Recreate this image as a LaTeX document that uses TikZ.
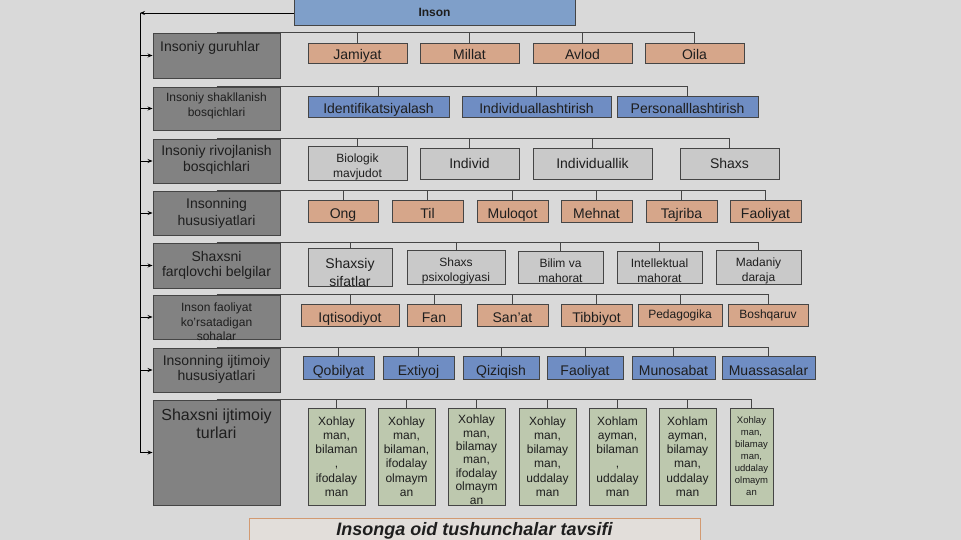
\documentclass[tikz,border=0pt]{standalone}
\usepackage{fontspec}
\setmainfont{Liberation Sans}
\usetikzlibrary{arrows.meta}
\definecolor{bg}{HTML}{D9D9D9}
\definecolor{insonc}{HTML}{7F9FC9}
\definecolor{salmon}{HTML}{D6A68A}
\definecolor{bluec}{HTML}{6F8DC3}
\definecolor{lgray}{HTML}{C9C9C9}
\definecolor{dgray}{HTML}{828282}
\definecolor{greenc}{HTML}{BDC8AE}
\definecolor{bordc}{HTML}{454545}
\definecolor{txtc}{HTML}{1E1E1E}
\definecolor{titlefill}{HTML}{E2DEDA}
\definecolor{titlebord}{HTML}{D29A72}
\newcommand{\bx}[7]{\node[#1, minimum width={(#5-#3)*1pt}, minimum height={(#6-#4)*1pt}] (#2) at ({(#3+#5)/2},{(#4+#6)/2}) {#7};}
\newcommand{\tsp}[1]{\rule{0pt}{#1}}
\tikzset{
  box/.style={draw=bordc, line width=0.9pt, inner sep=0pt, text=txtc, align=center},
  cat/.style={box, fill=dgray},
  cattxt/.style={text=txtc, align=center, inner sep=0pt},
  oneline/.style={text height=14.5pt, text depth=0pt},
  sal/.style={box, fill=salmon, font=\fontsize{14}{16}\selectfont, oneline},
  blu/.style={box, fill=bluec, font=\fontsize{14}{16}\selectfont, oneline},
  gry/.style={box, fill=lgray, font=\fontsize{14}{17}\selectfont},
  grn/.style={box, fill=greenc, font=\fontsize{12}{14.3}\selectfont},
  small/.style={font=\fontsize{12}{15}\selectfont},
  smallone/.style={font=\fontsize{12}{15}\selectfont, text height=6pt, text depth=0pt},
  bus/.style={draw=bordc, line width=0.8pt},
  arr/.style={draw=black, line width=0.8pt, -{Stealth[length=5pt,width=4pt]}},
}
\begin{document}
\begin{tikzpicture}[x=1pt,y=-1pt]
\clip (0,0) rectangle (961,540);
\fill[bg] (0,0) rectangle (961,540);

% top node
\bx{box, fill=insonc, font=\bfseries\fontsize{12}{14}\selectfont}{inson}{294}{-1}{575}{25}{Inson}

% category boxes
\bx{cat}{c1}{153}{33}{280}{78}{}
\bx{cat}{c2}{153}{87}{280}{130}{}
\bx{cat}{c3}{153}{139}{280}{183}{}
\bx{cat}{c4}{153}{191}{280}{235}{}
\bx{cat}{c5}{153}{243}{280}{288}{}
\bx{cat}{c6}{153}{295}{280}{339}{}
\bx{cat}{c7}{153}{348}{280}{392}{}
\bx{cat}{c8}{153}{400}{280}{505}{}

\node[cattxt, anchor=west, font=\fontsize{14}{16}\selectfont] (t1) at (160,48) {Insoniy guruhlar};
\node[cattxt, font=\fontsize{12}{15}\selectfont] (t2) at (216.5,106) {Insoniy shakllanish\\bosqichlari};
\node[cattxt, font=\fontsize{14}{16}\selectfont] (t3) at (216.5,160) {Insoniy rivojlanish\\bosqichlari};
\node[cattxt, font=\fontsize{14}{17}\selectfont] (t4) at (216.5,213.5) {Insonning\\hususiyatlari};
\node[cattxt, font=\fontsize{14}{15.5}\selectfont] (t5) at (216.5,265.5) {Shaxsni\\farqlovchi belgilar};
\node[cattxt, font=\fontsize{12}{14.5}\selectfont] (t6) at (216.5,322) {Inson faoliyat\\ko'rsatadigan\\sohalar};
\node[cattxt, font=\fontsize{14}{15}\selectfont] (t7) at (216.5,369) {Insonning ijtimoiy\\hususiyatlari};
\node[cattxt, font=\fontsize{16}{18}\selectfont] (t8) at (216.5,424) {Shaxsni ijtimoiy\\turlari};

% row 1
\bx{sal, text height=14pt}{r1a}{308}{43}{407}{63}{Jamiyat}
\bx{sal, text height=14pt}{r1b}{420}{43}{519}{63}{Millat}
\bx{sal, text height=14pt}{r1c}{533}{43}{632}{63}{Avlod}
\bx{sal, text height=14pt}{r1d}{645}{43}{744}{63}{Oila}
% row 2
\bx{blu, text height=15pt}{r2a}{308}{96}{449}{117}{Identifikatsiyalash}
\bx{blu, text height=15pt}{r2b}{462}{96}{611}{117}{Individuallashtirish}
\bx{blu, text height=15pt}{r2c}{617}{96}{758}{117}{Personalllashtirish}
% row 3
\bx{gry, small}{r3a}{308}{148}{407}{179}{\tsp{16pt}Biologik\\mavjudot}
\bx{gry}{r3b}{420}{148}{519}{179}{Individ}
\bx{gry}{r3c}{533}{148}{652}{179}{Individuallik}
\bx{gry}{r3d}{680}{148}{779}{179}{Shaxs}
% row 4
\bx{sal}{r4a}{308}{200}{378}{222}{Ong}
\bx{sal}{r4b}{392}{200}{463}{222}{Til}
\bx{sal}{r4c}{477}{200}{548}{222}{Muloqot}
\bx{sal}{r4d}{561}{200}{632}{222}{Mehnat}
\bx{sal}{r4e}{646}{200}{717}{222}{Tajriba}
\bx{sal}{r4f}{730}{200}{801}{222}{Faoliyat}
% row 5
\bx{gry, font=\fontsize{14}{18}\selectfont}{r5a}{308}{252}{392}{283}{\tsp{20pt}Shaxsiy\\sifatlar}
\bx{gry, small}{r5b}{407}{252}{505}{283}{\tsp{16pt}Shaxs\\psixologiyasi}
\bx{gry, small}{r5c}{518}{252}{603}{283}{\tsp{16pt}Bilim va\\mahorat}
\bx{gry, small}{r5d}{617}{252}{702}{283}{\tsp{16pt}Intellektual\\mahorat}
\bx{gry, small}{r5e}{716}{252}{801}{283}{\tsp{16pt}Madaniy\\daraja}
% row 6
\bx{sal}{r6a}{301}{304}{399}{326}{Iqtisodiyot}
\bx{sal}{r6b}{407}{304}{461}{326}{Fan}
\bx{sal}{r6c}{477}{304}{548}{326}{San'at}
\bx{sal}{r6d}{561}{304}{632}{326}{Tibbiyot}
\bx{sal, smallone}{r6e}{638}{304}{722}{326}{Pedagogika}
\bx{sal, smallone}{r6f}{728}{304}{808}{326}{Boshqaruv}
% row 7
\bx{blu, text height=16.5pt}{r7a}{303}{356}{374}{379}{Qobilyat}
\bx{blu, text height=16.5pt}{r7b}{383}{356}{454}{379}{Extiyoj}
\bx{blu, text height=16.5pt}{r7c}{463}{356}{539}{379}{Qiziqish}
\bx{blu, text height=16.5pt}{r7d}{547}{356}{623}{379}{Faoliyat}
\bx{blu, text height=16.5pt}{r7e}{632}{356}{715}{379}{Munosabat}
\bx{blu, text height=16.5pt}{r7f}{722}{356}{815}{379}{Muassasalar}
% row 8
\bx{grn}{r8a}{308}{408}{365}{505}{Xohlay\\man,\\bilaman\\,\\ifodalay\\man}
\bx{grn}{r8b}{378}{408}{435}{505}{Xohlay\\man,\\bilaman,\\ifodalay\\olmaym\\an}
\bx{grn, font=\fontsize{12}{13.4}\selectfont}{r8c}{448}{408}{505}{505}{\tsp{15pt}Xohlay\\man,\\bilamay\\man,\\ifodalay\\olmaym\\an}
\bx{grn}{r8d}{519}{408}{576}{505}{Xohlay\\man,\\bilamay\\man,\\uddalay\\man}
\bx{grn}{r8e}{589}{408}{646}{505}{Xohlam\\ayman,\\bilaman\\,\\uddalay\\man}
\bx{grn}{r8f}{659}{408}{716}{505}{Xohlam\\ayman,\\bilamay\\man,\\uddalay\\man}
\bx{grn, font=\fontsize{9.5}{12}\selectfont}{r8g}{730}{408}{773}{505}{Xohlay\\man,\\bilamay\\man,\\uddalay\\olmaym\\an}

% buses
\draw[bus] (c1.north) -| (r1d.north);
\foreach \n in {r1a,r1b,r1c} \draw[bus] (\n.north) -- (\n.north |- c1.north);
\draw[bus] (c2.north) -| (r2c.north);
\foreach \n in {r2a,r2b} \draw[bus] (\n.north) -- (\n.north |- c2.north);
\draw[bus] (c3.north) -| (r3d.north);
\foreach \n in {r3a,r3b,r3c} \draw[bus] (\n.north) -- (\n.north |- c3.north);
\draw[bus] (c4.north) -| (r4f.north);
\foreach \n in {r4a,r4b,r4c,r4d,r4e} \draw[bus] (\n.north) -- (\n.north |- c4.north);
\draw[bus] (c5.north) -| (r5e.north);
\foreach \n in {r5a,r5b,r5c,r5d} \draw[bus] (\n.north) -- (\n.north |- c5.north);
\draw[bus] (c6.north) -| (r6f.north);
\foreach \n in {r6a,r6b,r6c,r6d,r6e} \draw[bus] (\n.north) -- (\n.north |- c6.north);
\draw[bus] (c7.north) -| (r7f.north);
\foreach \n in {r7a,r7b,r7c,r7d,r7e} \draw[bus] (\n.north) -- (\n.north |- c7.north);
\draw[bus] (c8.north) -| (r8g.north);
\foreach \n in {r8a,r8b,r8c,r8d,r8e,r8f} \draw[bus] (\n.north) -- (\n.north |- c8.north);

% left spine
\coordinate (tl) at (140,13);
\draw[arr] (inson.west |- tl) -- (tl);
\draw[draw=black, line width=0.8pt] (tl) -- (tl |- c8.west);
\foreach \c in {c1,c2,c3,c4,c5,c6,c7,c8} \draw[arr] (tl |- \c.west) -- (\c.west);

% title
\bx{draw=titlebord, line width=1pt, fill=titlefill, inner sep=0pt}{tbox}{249}{518}{700}{565}{}
\node[anchor=base, inner sep=0pt, text=txtc, font=\bfseries\itshape\fontsize{18}{20}\selectfont] (title) at (474.5,535.5) {Insonga oid tushunchalar tavsifi};
\end{tikzpicture}
\end{document}
